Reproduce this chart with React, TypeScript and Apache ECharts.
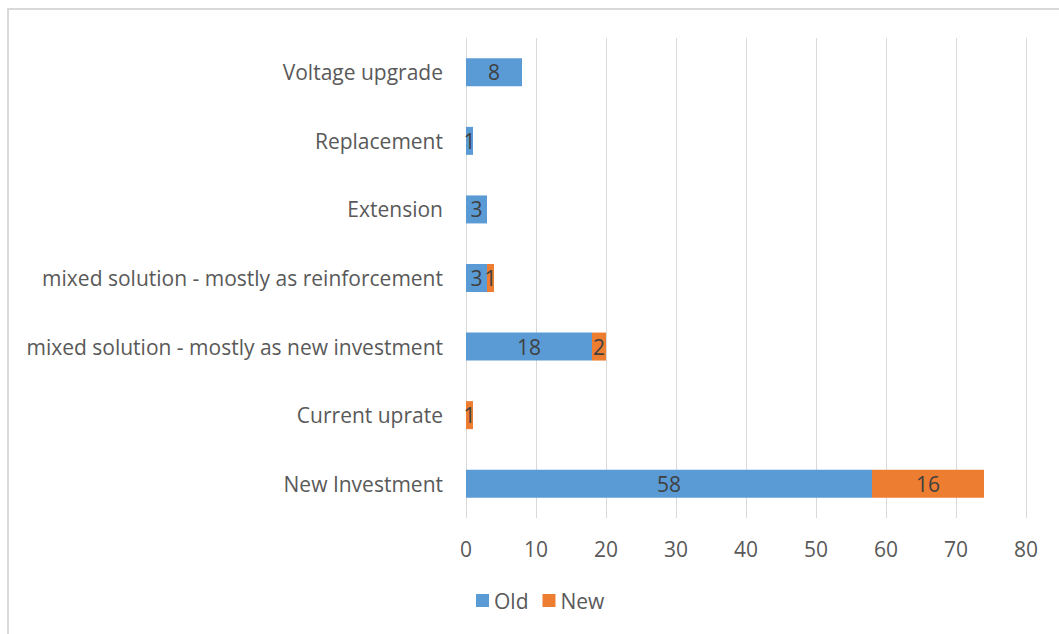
import React, { useEffect, useRef } from "react";
import * as echarts from "echarts";

const categories = [
  "New Investment",
  "Current uprate",
  "mixed solution - mostly as new investment",
  "mixed solution - mostly as reinforcement",
  "Extension",
  "Replacement",
  "Voltage upgrade",
];
const oldValues = [58, 0, 18, 3, 3, 1, 8];
const newValues = [16, 1, 2, 1, 0, 0, 0];
const xTicks = { min: 0, max: 80, interval: 10 };

const FONT = "'Open Sans', Arial, sans-serif";
const FS = 21;

export default function App() {
  const ref = useRef<HTMLDivElement>(null);
  useEffect(() => {
    if (!ref.current) return;
    const chart = echarts.init(ref.current, null, { renderer: "svg" });
    const label = {
      show: true,
      position: "inside" as const,
      color: "#404040",
      fontSize: FS,
      fontFamily: FONT,
      formatter: (p: any) => (p.value ? String(p.value) : ""),
    };
    chart.setOption({
      animation: false,
      textStyle: { fontFamily: FONT },
      grid: { left: 466, right: 33, top: 38, bottom: 116, containLabel: false },
      legend: {
        bottom: 18,
        left: 471,
        itemWidth: 13,
        itemHeight: 13,
        itemGap: 14,
        icon: "rect",
        textStyle: { color: "#595959", fontSize: FS, fontFamily: FONT },
        data: ["Old", "New"],
      },
      xAxis: {
        type: "value",
        min: xTicks.min,
        max: xTicks.max,
        interval: xTicks.interval,
        axisLine: { show: false },
        axisTick: { show: false },
        axisLabel: { color: "#595959", fontSize: FS, margin: 20, fontFamily: FONT },
        splitLine: { show: true, lineStyle: { color: "#d9d9d9", width: 1 } },
      },
      yAxis: {
        type: "category",
        data: categories,
        axisLine: { show: false },
        axisTick: { show: false },
        axisLabel: { color: "#595959", fontSize: FS, margin: 23, fontFamily: FONT },
      },
      series: [
        {
          name: "Old",
          type: "bar",
          stack: "total",
          data: oldValues,
          barWidth: 28,
          itemStyle: { color: "#5B9BD5" },
          label,
        },
        {
          name: "New",
          type: "bar",
          stack: "total",
          data: newValues,
          barWidth: 28,
          itemStyle: { color: "#ED7D31" },
          label,
        },
      ],
    });
    return () => chart.dispose();
  }, []);
  return (
    <div style={{ position: "fixed", left: 0, top: 0, width: 1059, height: 634, background: "#fff" }}>
      <div
        style={{
          position: "absolute",
          left: 7,
          top: 8,
          width: 1070,
          height: 650,
          border: "2px solid #d9d9d9",
          boxSizing: "border-box",
        }}
      />
      <div ref={ref} style={{ position: "absolute", left: 0, top: 0, width: 1059, height: 634 }} />
    </div>
  );
}
